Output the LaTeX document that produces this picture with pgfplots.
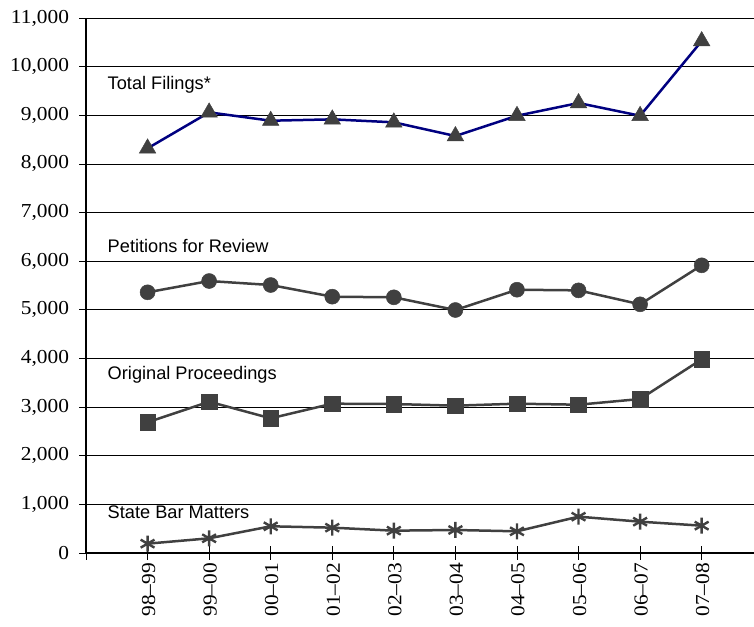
\documentclass[border=0pt]{standalone}
\usepackage{fontspec}
\setmainfont{Liberation Serif}
\newfontfamily\arial{Liberation Sans}
\usepackage{graphicx}
\usepackage{pgfplots}
\pgfplotsset{compat=1.18}
\definecolor{navyline}{HTML}{000080}
\definecolor{markgray}{HTML}{404040}
\newcommand{\widen}[1]{\scalebox{1.08}[1]{#1}}
\begin{document}
\begin{tikzpicture}
\begin{axis}[
  at={(0,0)}, anchor=south west,
  scale only axis, width=668bp, height=535bp,
  xmin=-1, xmax=9.85, ymin=0, ymax=11000,
  axis x line*=bottom, axis y line*=left,
  axis line style={black, line width=1.5bp},
  xtick={-1,0,...,9},
  xticklabels={{},\widen{98--99},\widen{99--00},\widen{00--01},\widen{01--02},\widen{02--03},\widen{03--04},\widen{04--05},\widen{05--06},\widen{06--07},\widen{07--08}},
  ytick={0,1000,...,11000},
  scaled y ticks=false,
  yticklabel={\widen{\pgfmathprintnumber{\tick}}},
  ymajorgrids, grid style={black, line width=0.75bp},
  tick align=center, major tick length=13bp,
  tick style={black, line width=0.75bp},
  /pgf/number format/.cd, fixed, 1000 sep={,}, assume math mode=true, /pgfplots/.cd,
  yticklabel style={font=\fontsize{19.8bp}{21bp}\selectfont, xshift=-7bp},
  xticklabel style={rotate=90, anchor=east, font=\fontsize{19.8bp}{21bp}\selectfont, yshift=-1bp},
  clip=false,
]
\addplot[navyline, line width=2.5bp, mark=triangle*, mark size=9.5bp,
  mark options={markgray, fill=markgray, line width=0.5bp}]
  coordinates {(0,8320) (1,9060) (2,8888) (3,8916) (4,8855) (5,8573) (6,8990) (7,9252) (8,8990) (9,10526)};
\addplot[markgray, line width=2.5bp, mark=*, mark size=7.5bp,
  mark options={markgray, fill=markgray, line width=0.5bp}]
  coordinates {(0,5360) (1,5592) (2,5510) (3,5270) (4,5257) (5,4996) (6,5413) (7,5400) (8,5113) (9,5915)};
\addplot[markgray, line width=2.5bp, mark=square*, mark size=7.8bp,
  mark options={markgray, fill=markgray, line width=0.5bp}]
  coordinates {(0,2687) (1,3111) (2,2769) (3,3070) (4,3063) (5,3029) (6,3070) (7,3049) (8,3166) (9,3982)};
\addplot[markgray, line width=2.5bp, mark=asterisk, mark size=8bp,
  mark options={markgray, line width=2.4bp}]
  coordinates {(0,192) (1,302) (2,549) (3,521) (4,459) (5,473) (6,446) (7,747) (8,644) (9,562)};
\node[anchor=base west, font=\arial\fontsize{18.2bp}{20bp}\selectfont, inner sep=0pt] at (axis cs:-0.65,9533) {Total Filings*};
\node[anchor=base west, font=\arial\fontsize{18.2bp}{20bp}\selectfont, inner sep=0pt] at (axis cs:-0.65,6188) {Petitions for Review};
\node[anchor=base west, font=\arial\fontsize{18.2bp}{20bp}\selectfont, inner sep=0pt] at (axis cs:-0.65,3577) {Original Proceedings};
\node[anchor=base west, font=\arial\fontsize{18.2bp}{20bp}\selectfont, inner sep=0pt] at (axis cs:-0.65,713) {State Bar Matters};
\end{axis}
\pgfresetboundingbox
\path (-86bp,-74bp) rectangle (668bp,553bp);
\end{tikzpicture}
\end{document}
